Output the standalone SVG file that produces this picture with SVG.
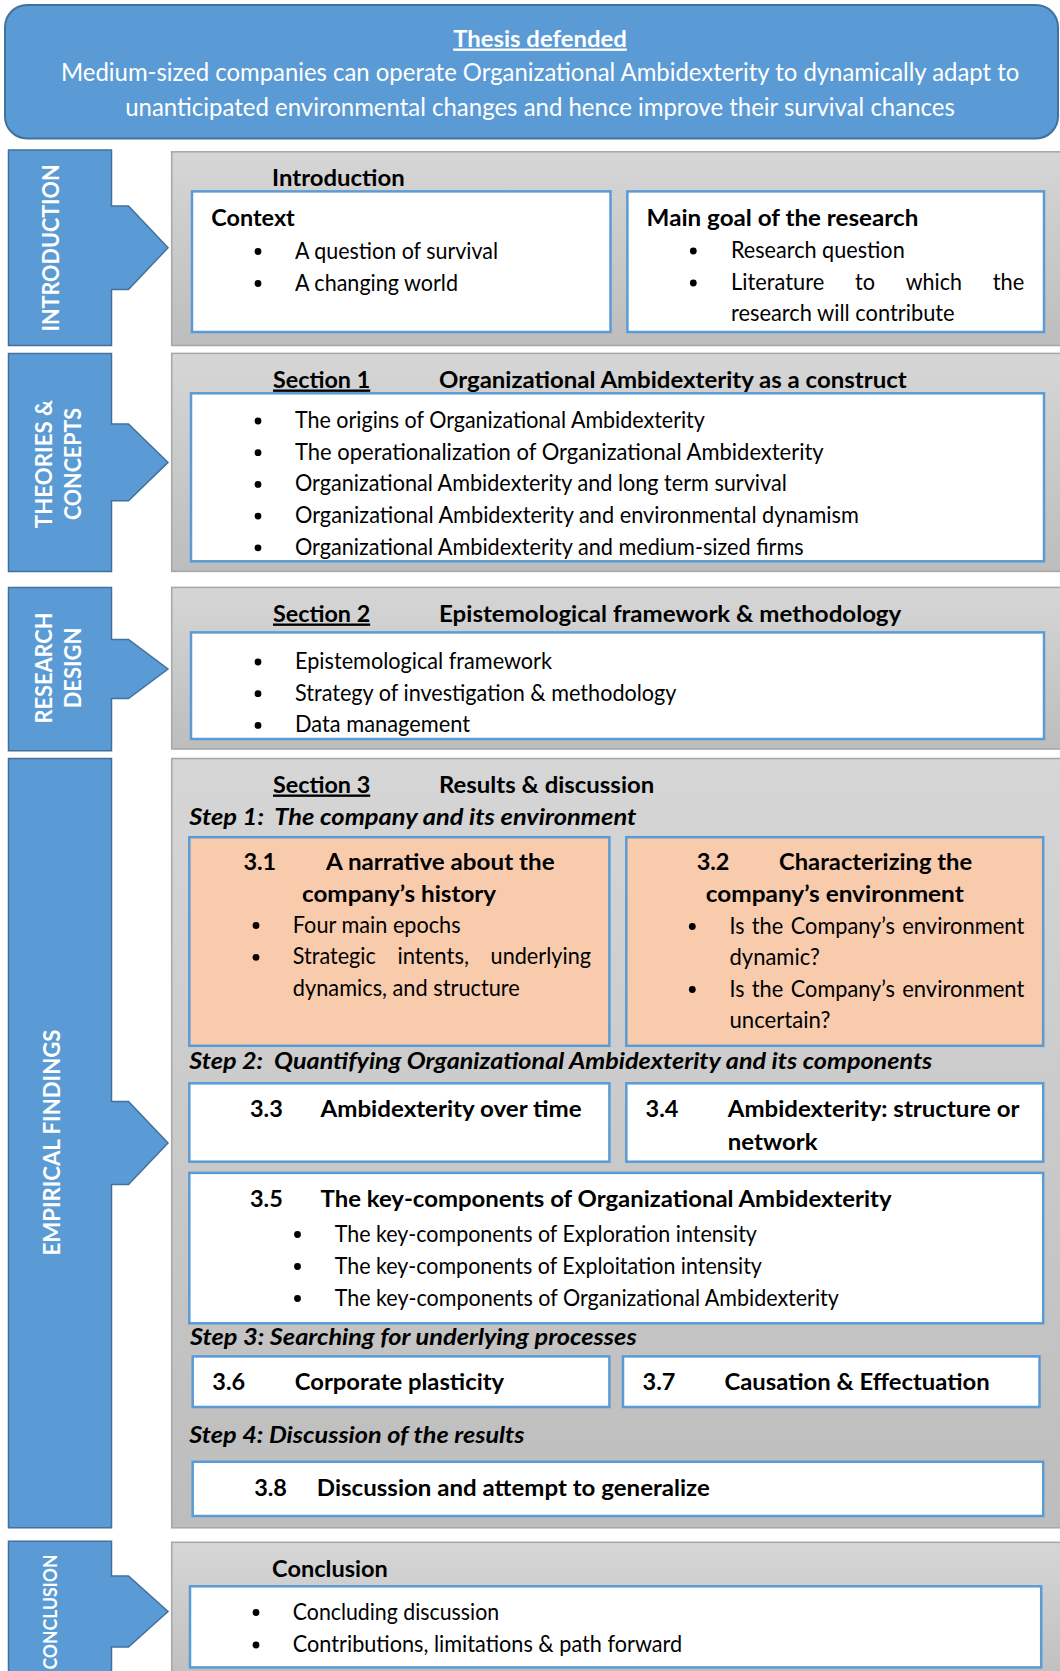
<svg xmlns="http://www.w3.org/2000/svg" width="1060" height="1671" viewBox="0 0 1060 1671">
<defs>
<linearGradient id="gp" x1="0" y1="0" x2="0" y2="1"><stop offset="0" stop-color="#D6D6D6"/><stop offset="1" stop-color="#BDBDBD"/></linearGradient>
<clipPath id="c1"><rect x="192" y="394.5" width="851" height="165.6"/></clipPath>
<clipPath id="c2"><rect x="192" y="633.6" width="851" height="104.2"/></clipPath>
</defs>
<style>
text{font-family:Lato,"Open Sans","Liberation Sans",sans-serif;fill:#000}
.h{font-weight:700;font-size:23.6px}
.b{font-size:22.8px}
.s{font-weight:700;font-style:italic;font-size:23.5px}
.w{fill:#fff}
.t{font-weight:700;font-size:23.6px;fill:#fff}
.u{text-decoration:underline}
.tab{fill:#5B9BD5;stroke:#41719C;stroke-width:1.5}
.panel{fill:url(#gp);stroke:#A6A6A6;stroke-width:1.5}
.box{fill:#fff;stroke:#5B9BD5;stroke-width:2.5}
.obox{fill:#F8CBAD;stroke:#5B9BD5;stroke-width:2.5}
.bul{fill:#000}
</style>
<rect width="1060" height="1671" fill="#fff"/>

<g id="thesis">
<rect x="5" y="5" width="1053" height="133.5" rx="22" fill="#5B9BD5" stroke="#41719C" stroke-width="2"/>
<text class="h w u" x="453.2" y="46.5" textLength="173.6" lengthAdjust="spacingAndGlyphs">Thesis defended</text>
<text class="w" style="font-size:24.5px" x="61" y="81" textLength="958.3" lengthAdjust="spacingAndGlyphs">Medium-sized companies can operate Organizational Ambidexterity to dynamically adapt to</text>
<text class="w" style="font-size:24.5px" x="125.2" y="115.5" textLength="829.6" lengthAdjust="spacingAndGlyphs">unanticipated environmental changes and hence improve their survival chances</text>
</g>

<g id="tab-introduction">
<path class="tab" d="M8.5,150 H111.5 V206 H128.5 L168,247.75 L128.5,289.5 H111.5 V345.5 H8.5 Z"/>
<text class="t" text-anchor="middle" transform="translate(59,248) rotate(-90)" textLength="167" lengthAdjust="spacingAndGlyphs">INTRODUCTION</text>
</g>
<g id="tab-theories">
<path class="tab" d="M8.5,353.4 H111.5 V424 H128.5 L168,462.4 L128.5,500.8 H111.5 V571.4 H8.5 Z"/>
<text class="t" text-anchor="middle" transform="translate(51.5,464) rotate(-90)" textLength="128.3" lengthAdjust="spacingAndGlyphs">THEORIES &amp;</text>
<text class="t" text-anchor="middle" transform="translate(80.5,464) rotate(-90)" textLength="112.2" lengthAdjust="spacingAndGlyphs">CONCEPTS</text>
</g>
<g id="tab-research">
<path class="tab" d="M8.5,587.4 H111.5 V639.5 H128.5 L168,669 L128.5,698.5 H111.5 V750.7 H8.5 Z"/>
<text class="t" text-anchor="middle" transform="translate(52.4,668) rotate(-90)" textLength="111.1" lengthAdjust="spacingAndGlyphs">RESEARCH</text>
<text class="t" text-anchor="middle" transform="translate(81,668) rotate(-90)" textLength="80.7" lengthAdjust="spacingAndGlyphs">DESIGN</text>
</g>
<g id="tab-empirical">
<path class="tab" d="M8.5,758.5 H111.5 V1101.5 H128.5 L168,1143 L128.5,1184.5 H111.5 V1527.8 H8.5 Z"/>
<text class="t" text-anchor="middle" transform="translate(60,1142.5) rotate(-90)" textLength="226" lengthAdjust="spacingAndGlyphs">EMPIRICAL FINDINGS</text>
</g>
<g id="tab-conclusion">
<path class="tab" d="M8.5,1541.3 H111.5 V1576 H128.5 L168,1611.5 L128.5,1647 H111.5 V1690 H8.5 Z"/>
<text class="t" style="font-size:19px" text-anchor="middle" transform="translate(56.5,1612) rotate(-90)" textLength="115" lengthAdjust="spacingAndGlyphs">CONCLUSION</text>
</g>

<g id="connectors"></g>

<g id="panel-introduction">
<rect class="panel" x="171.7" y="151.8" width="895" height="193.7"/>
<text class="h" x="272" y="186" textLength="132.7" lengthAdjust="spacingAndGlyphs">Introduction</text>
<g id="context">
<rect class="box" x="192" y="191.4" width="418.5" height="140.6"/>
<text class="h" x="211.3" y="226" textLength="83.5" lengthAdjust="spacingAndGlyphs">Context</text>
<circle class="bul" cx="258" cy="251.5" r="3.4"/>
<text class="b" x="295" y="258.5" textLength="203" lengthAdjust="spacingAndGlyphs">A question of survival</text>
<circle class="bul" cx="258" cy="283.5" r="3.4"/>
<text class="b" x="295" y="290.5" textLength="163" lengthAdjust="spacingAndGlyphs">A changing world</text>
</g>
<g id="main-goal">
<rect class="box" x="627.4" y="191.4" width="416.6" height="140.6"/>
<text class="h" x="646.6" y="226" textLength="271.7" lengthAdjust="spacingAndGlyphs">Main goal of the research</text>
<circle class="bul" cx="693.3" cy="251" r="3.4"/>
<text class="b" x="731" y="258" textLength="173.7" lengthAdjust="spacingAndGlyphs">Research question</text>
<circle class="bul" cx="693.3" cy="283" r="3.4"/>
<text class="b" x="731" y="290" textLength="93.2" lengthAdjust="spacingAndGlyphs">Literature</text>
<text class="b" x="855" y="290" textLength="20" lengthAdjust="spacingAndGlyphs">to</text>
<text class="b" x="905.8" y="290" textLength="56.1" lengthAdjust="spacingAndGlyphs">which</text>
<text class="b" x="992.7" y="290" textLength="31.5" lengthAdjust="spacingAndGlyphs">the</text>
<text class="b" x="731" y="321" textLength="223.6" lengthAdjust="spacingAndGlyphs">research will contribute</text>
</g>
</g>

<g id="panel-section1">
<rect class="panel" x="171.7" y="353.4" width="895" height="218"/>
<text class="h u" x="273" y="387.5" textLength="97.2" lengthAdjust="spacingAndGlyphs">Section 1</text>
<text class="h" x="439" y="387.5" textLength="467.7" lengthAdjust="spacingAndGlyphs">Organizational Ambidexterity as a construct</text>
<rect class="box" x="191" y="393.3" width="853" height="168"/>
<g clip-path="url(#c1)">
<circle class="bul" cx="258" cy="421" r="3.4"/>
<text class="b" x="295" y="428" textLength="409.9" lengthAdjust="spacingAndGlyphs">The origins of Organizational Ambidexterity</text>
<circle class="bul" cx="258" cy="452.7" r="3.4"/>
<text class="b" x="295" y="459.7" textLength="528.7" lengthAdjust="spacingAndGlyphs">The operationalization of Organizational Ambidexterity</text>
<circle class="bul" cx="258" cy="484.4" r="3.4"/>
<text class="b" x="295" y="491.4" textLength="491.8" lengthAdjust="spacingAndGlyphs">Organizational Ambidexterity and long term survival</text>
<circle class="bul" cx="258" cy="516.1" r="3.4"/>
<text class="b" x="295" y="523.1" textLength="563.8" lengthAdjust="spacingAndGlyphs">Organizational Ambidexterity and environmental dynamism</text>
<circle class="bul" cx="258" cy="547.8" r="3.4"/>
<text class="b" x="295" y="554.8" textLength="508.7" lengthAdjust="spacingAndGlyphs">Organizational Ambidexterity and medium-sized firms</text>
</g>
</g>

<g id="panel-section2">
<rect class="panel" x="171.7" y="587.4" width="895" height="161.6"/>
<text class="h u" x="273" y="621.5" textLength="97.2" lengthAdjust="spacingAndGlyphs">Section 2</text>
<text class="h" x="439" y="621.5" textLength="462.3" lengthAdjust="spacingAndGlyphs">Epistemological framework &amp; methodology</text>
<rect class="box" x="191" y="632.4" width="853" height="106.6"/>
<g clip-path="url(#c2)">
<circle class="bul" cx="258" cy="662" r="3.4"/>
<text class="b" x="295" y="669" textLength="257" lengthAdjust="spacingAndGlyphs">Epistemological framework</text>
<circle class="bul" cx="258" cy="693.7" r="3.4"/>
<text class="b" x="295" y="700.7" textLength="381.4" lengthAdjust="spacingAndGlyphs">Strategy of investigation &amp; methodology</text>
<circle class="bul" cx="258" cy="725.4" r="3.4"/>
<text class="b" x="295" y="732.4" textLength="175" lengthAdjust="spacingAndGlyphs">Data management</text>
</g>
</g>

<g id="panel-section3">
<rect class="panel" x="171.7" y="758.5" width="895" height="769.3"/>
<text class="h u" x="273" y="792.5" textLength="97.2" lengthAdjust="spacingAndGlyphs">Section 3</text>
<text class="h" x="439" y="792.5" textLength="215.2" lengthAdjust="spacingAndGlyphs">Results &amp; discussion</text>
<text class="s" xml:space="preserve" x="189.3" y="825" textLength="447" lengthAdjust="spacingAndGlyphs">Step 1:  The company and its environment</text>

<g id="box-3-1">
<rect class="obox" x="189.3" y="837.2" width="420.1" height="208.6"/>
<text class="h" x="243.4" y="870" textLength="32.8" lengthAdjust="spacingAndGlyphs">3.1</text>
<text class="h" x="326" y="870" textLength="228.6" lengthAdjust="spacingAndGlyphs">A narrative about the</text>
<text class="h" x="302" y="901.5" textLength="194.1" lengthAdjust="spacingAndGlyphs">company’s history</text>
<circle class="bul" cx="256" cy="925.5" r="3.4"/>
<text class="b" x="292.8" y="932.5" textLength="167.8" lengthAdjust="spacingAndGlyphs">Four main epochs</text>
<circle class="bul" cx="256" cy="957.3" r="3.4"/>
<text class="b" x="292.8" y="964.3" textLength="83" lengthAdjust="spacingAndGlyphs">Strategic</text>
<text class="b" x="397.4" y="964.3" textLength="71.6" lengthAdjust="spacingAndGlyphs">intents,</text>
<text class="b" x="490.6" y="964.3" textLength="100.4" lengthAdjust="spacingAndGlyphs">underlying</text>
<text class="b" x="292.8" y="996" textLength="227" lengthAdjust="spacingAndGlyphs">dynamics, and structure</text>
</g>

<g id="box-3-2">
<rect class="obox" x="626.3" y="837.2" width="416.9" height="208.6"/>
<text class="h" x="696.7" y="870" textLength="32.8" lengthAdjust="spacingAndGlyphs">3.2</text>
<text class="h" x="779" y="870" textLength="193.2" lengthAdjust="spacingAndGlyphs">Characterizing the</text>
<text class="h" x="705.8" y="901.5" textLength="257.9" lengthAdjust="spacingAndGlyphs">company’s environment</text>
<circle class="bul" cx="692.3" cy="926.5" r="3.4"/>
<text class="b" x="729.5" y="933.5" textLength="14.9" lengthAdjust="spacingAndGlyphs">Is</text>
<text class="b" x="751.8" y="933.5" textLength="31.5" lengthAdjust="spacingAndGlyphs">the</text>
<text class="b" x="790.8" y="933.5" textLength="104" lengthAdjust="spacingAndGlyphs">Company’s</text>
<text class="b" x="902.2" y="933.5" textLength="122.1" lengthAdjust="spacingAndGlyphs">environment</text>
<text class="b" x="729.5" y="965" textLength="90.4" lengthAdjust="spacingAndGlyphs">dynamic?</text>
<circle class="bul" cx="692.3" cy="989.5" r="3.4"/>
<text class="b" x="729.5" y="996.5" textLength="14.9" lengthAdjust="spacingAndGlyphs">Is</text>
<text class="b" x="751.8" y="996.5" textLength="31.5" lengthAdjust="spacingAndGlyphs">the</text>
<text class="b" x="790.8" y="996.5" textLength="104" lengthAdjust="spacingAndGlyphs">Company’s</text>
<text class="b" x="902.2" y="996.5" textLength="122.1" lengthAdjust="spacingAndGlyphs">environment</text>
<text class="b" x="729.5" y="1028" textLength="100.9" lengthAdjust="spacingAndGlyphs">uncertain?</text>
</g>

<text class="s" xml:space="preserve" x="189.3" y="1068.5" textLength="743" lengthAdjust="spacingAndGlyphs">Step 2:  Quantifying Organizational Ambidexterity and its components</text>

<g id="box-3-3">
<rect class="box" x="189.3" y="1083.3" width="420.1" height="78.4"/>
<text class="h" x="250" y="1117" textLength="32.8" lengthAdjust="spacingAndGlyphs">3.3</text>
<text class="h" x="320.5" y="1117" textLength="261.2" lengthAdjust="spacingAndGlyphs">Ambidexterity over time</text>
</g>
<g id="box-3-4">
<rect class="box" x="626.3" y="1083.3" width="416.9" height="78.4"/>
<text class="h" x="645.6" y="1117" textLength="32.8" lengthAdjust="spacingAndGlyphs">3.4</text>
<text class="h" x="727.8" y="1117" textLength="291.6" lengthAdjust="spacingAndGlyphs">Ambidexterity: structure or</text>
<text class="h" x="727.8" y="1149.5" textLength="89.7" lengthAdjust="spacingAndGlyphs">network</text>
</g>
<g id="box-3-5">
<rect class="box" x="189.3" y="1172.9" width="853.9" height="150.4"/>
<text class="h" x="250" y="1207.3" textLength="32.8" lengthAdjust="spacingAndGlyphs">3.5</text>
<text class="h" x="320.5" y="1207.3" textLength="571.1" lengthAdjust="spacingAndGlyphs">The key-components of Organizational Ambidexterity</text>
<circle class="bul" cx="297.5" cy="1234.5" r="3.4"/>
<text class="b" x="334.7" y="1241.5" textLength="422.2" lengthAdjust="spacingAndGlyphs">The key-components of Exploration intensity</text>
<circle class="bul" cx="297.5" cy="1266.5" r="3.4"/>
<text class="b" x="334.7" y="1273.5" textLength="427.2" lengthAdjust="spacingAndGlyphs">The key-components of Exploitation intensity</text>
<circle class="bul" cx="297.5" cy="1298.5" r="3.4"/>
<text class="b" x="334.7" y="1305.5" textLength="504.2" lengthAdjust="spacingAndGlyphs">The key-components of Organizational Ambidexterity</text>
</g>

<text class="s" x="190" y="1345" textLength="446.7" lengthAdjust="spacingAndGlyphs">Step 3: Searching for underlying processes</text>

<g id="box-3-6">
<rect class="box" x="192.7" y="1356.4" width="416.7" height="50.6"/>
<text class="h" x="212.3" y="1390" textLength="32.8" lengthAdjust="spacingAndGlyphs">3.6</text>
<text class="h" x="294.8" y="1390" textLength="209.3" lengthAdjust="spacingAndGlyphs">Corporate plasticity</text>
</g>
<g id="box-3-7">
<rect class="box" x="623" y="1356.4" width="416.5" height="50.6"/>
<text class="h" x="642.6" y="1390" textLength="32.8" lengthAdjust="spacingAndGlyphs">3.7</text>
<text class="h" x="724.4" y="1390" textLength="265.3" lengthAdjust="spacingAndGlyphs">Causation &amp; Effectuation</text>
</g>

<text class="s" x="189.3" y="1442.5" textLength="335.3" lengthAdjust="spacingAndGlyphs">Step 4: Discussion of the results</text>

<g id="box-3-8">
<rect class="box" x="192.7" y="1461.8" width="850.5" height="54.2"/>
<text class="h" x="254.2" y="1495.6" textLength="32.8" lengthAdjust="spacingAndGlyphs">3.8</text>
<text class="h" x="316.8" y="1495.6" textLength="393" lengthAdjust="spacingAndGlyphs">Discussion and attempt to generalize</text>
</g>
</g>

<g id="panel-conclusion">
<rect class="panel" x="171.7" y="1542.3" width="895" height="150"/>
<text class="h" x="272.1" y="1576.5" textLength="115.8" lengthAdjust="spacingAndGlyphs">Conclusion</text>
<rect class="box" x="190" y="1586.3" width="851.2" height="81.1"/>
<circle class="bul" cx="256" cy="1612.5" r="3.4"/>
<text class="b" x="292.8" y="1619.5" textLength="206.3" lengthAdjust="spacingAndGlyphs">Concluding discussion</text>
<circle class="bul" cx="256" cy="1645" r="3.4"/>
<text class="b" x="292.8" y="1652" textLength="389.4" lengthAdjust="spacingAndGlyphs">Contributions, limitations &amp; path forward</text>
</g>
</svg>
